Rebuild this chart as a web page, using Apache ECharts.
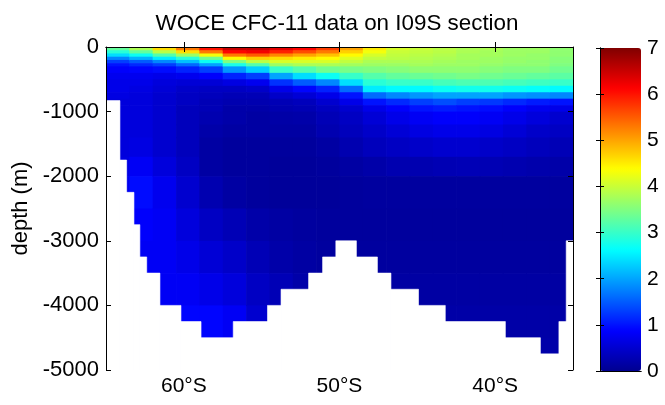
<!DOCTYPE html>
<html><head><meta charset="utf-8">
<script src="https://cdn.jsdelivr.net/npm/echarts@6/dist/echarts.min.js"></script>
<style>html,body{margin:0;padding:0;background:#fff}#c{width:665px;height:405px}</style>
</head><body><div id="c"></div>
<script>
// ---------- data ----------
const titleText = 'WOCE CFC-11 data on I09S section';
const yAxisName = 'depth (m)';
// latitude cell edges (negative = °S)
const latEdges = [-65, -63.5, -62, -60.5, -59, -57.5, -56, -54.5, -53, -51.5, -50,
                  -48.5, -47, -45.5, -44, -42.5, -41, -39.5, -38, -36.5, -35];
// depth cell edges (m)
const depthEdges = [0, 50, 100, 150, 200, 250, 300, 400, 500, 600, 700, 800, 900, 1000,
                    1200, 1400, 1700, 2000, 2500, 3000, 3500, 4000, 4500, 5000];
// CFC-11 values, one list per latitude column, top to bottom
const cfc = [
  [3.3,2.9,2.4,1.8,1.3,1.0,0.85,0.75,0.7,0.7,0.65,0.6,0.6,0.6,0.6,0.6,0.65,0.75,0.8,0.8,0.8,0.8,0.8],
  [3.8,3.3,2.7,2.1,1.5,1.15,0.9,0.75,0.7,0.65,0.6,0.6,0.6,0.6,0.6,0.65,0.8,0.95,0.85,0.8,0.8,0.8,0.8],
  [4.6,3.9,3.2,2.5,1.8,1.3,0.95,0.7,0.6,0.55,0.5,0.5,0.5,0.5,0.5,0.5,0.6,0.75,0.8,0.8,0.8,0.85,0.85],
  [5.3,4.6,3.7,2.9,2.2,1.6,1.1,0.75,0.55,0.45,0.4,0.4,0.35,0.35,0.35,0.35,0.4,0.5,0.6,0.7,0.8,0.9,0.9],
  [6.0,5.3,4.3,3.4,2.7,2.0,1.3,0.85,0.55,0.4,0.35,0.3,0.3,0.25,0.2,0.15,0.15,0.25,0.4,0.55,0.7,0.9,0.95],
  [6.5,6.1,5.3,4.4,3.5,2.8,1.9,1.1,0.65,0.4,0.3,0.25,0.2,0.2,0.15,0.1,0.1,0.15,0.3,0.45,0.6,0.8,0.9],
  [6.5,6.2,5.5,4.7,3.9,3.2,2.3,1.3,0.75,0.45,0.3,0.25,0.2,0.15,0.15,0.1,0.1,0.1,0.2,0.3,0.4,0.5,0.5],
  [6.3,5.9,5.2,4.6,4.1,3.7,3.0,2.0,1.2,0.7,0.45,0.3,0.25,0.18,0.15,0.1,0.08,0.08,0.15,0.2,0.3,0.35,0.35],
  [6.1,5.6,5.0,4.5,4.1,3.8,3.2,2.4,1.5,0.9,0.55,0.35,0.28,0.2,0.15,0.1,0.08,0.08,0.12,0.15,0.2,0.25,0.25],
  [5.7,5.3,4.8,4.4,4.1,3.8,3.4,2.7,1.8,1.1,0.7,0.5,0.38,0.3,0.25,0.15,0.1,0.08,0.1,0.12,0.15,0.2,0.2],
  [5.0,4.7,4.4,4.15,3.95,3.75,3.45,3.0,2.4,1.6,1.0,0.7,0.5,0.4,0.35,0.25,0.15,0.1,0.1,0.12,0.15,0.2,0.2],
  [4.5,4.3,4.1,3.95,3.8,3.7,3.5,3.2,2.9,2.5,1.6,1.0,0.7,0.55,0.45,0.35,0.2,0.12,0.1,0.12,0.15,0.2,0.2],
  [4.1,4.0,3.95,3.9,3.8,3.7,3.55,3.3,3.0,2.6,1.8,1.15,0.85,0.7,0.55,0.4,0.25,0.12,0.1,0.12,0.15,0.2,0.2],
  [4.0,3.95,3.9,3.85,3.8,3.75,3.6,3.35,3.0,2.6,1.9,1.3,1.0,0.8,0.65,0.45,0.25,0.12,0.1,0.12,0.15,0.2,0.2],
  [3.9,3.9,3.85,3.8,3.75,3.7,3.6,3.4,3.1,2.7,2.0,1.4,1.05,0.85,0.7,0.5,0.28,0.12,0.1,0.12,0.15,0.18,0.2],
  [3.8,3.8,3.75,3.75,3.7,3.7,3.6,3.45,3.15,2.75,2.0,1.3,1.0,0.85,0.7,0.5,0.3,0.12,0.1,0.12,0.15,0.18,0.2],
  [3.8,3.75,3.75,3.7,3.7,3.65,3.55,3.4,3.15,2.75,2.0,1.25,0.95,0.8,0.65,0.45,0.28,0.12,0.1,0.12,0.15,0.18,0.2],
  [3.7,3.7,3.7,3.65,3.65,3.6,3.5,3.35,3.1,2.7,1.9,1.15,0.85,0.7,0.55,0.4,0.25,0.12,0.1,0.12,0.15,0.18,0.2],
  [3.7,3.7,3.65,3.65,3.6,3.6,3.5,3.3,3.05,2.65,1.85,1.05,0.75,0.6,0.45,0.35,0.22,0.12,0.1,0.12,0.15,0.18,0.2],
  [3.6,3.6,3.6,3.55,3.55,3.5,3.4,3.25,3.0,2.6,1.8,1.0,0.7,0.5,0.4,0.3,0.2,0.12,0.1,0.12,0.15,0.18,0.2]
];
// sea-floor (mask) segments
const bathyLatEdges = [-65, -64.13, -63.70, -63.23, -62.85, -62.41, -61.56, -60.21, -58.92, -56.80,
                       -54.60, -53.73, -51.96, -51.06, -50.21, -48.94, -47.59, -46.72, -44.95, -43.23,
                       -39.37, -37.12, -35.88, -35.41, -35];
const bathyDepth = [830, 1750, 2250, 2750, 3250, 3500, 4000, 4250, 4500,
                    4250, 4000, 3750, 3500, 3250, 3000, 3250, 3500, 3750, 4000,
                    4250, 4500, 4750, 4250, 3000];
const xTickValues = [-60, -50, -40];
const colorMin = 0, colorMax = 7;
const jetColors = ['#000090','#0000FF','#0080FF','#00FFFF','#80FF80','#FFFF00','#FF8000','#FF0000','#800000'];

// ---------- build ----------
const FONT = '"Liberation Sans", Arial, Helvetica, sans-serif';
const fieldData = [];
for (let i = 0; i < cfc.length; i++) {
  for (let j = 0; j < depthEdges.length - 1; j++) {
    fieldData.push([latEdges[i], latEdges[i + 1], -depthEdges[j], -depthEdges[j + 1], cfc[i][j]]);
  }
}
const maskData = bathyDepth.map((d, i) => [bathyLatEdges[i], bathyLatEdges[i + 1], -d, -5000]);

function cellItem(params, api) {
  const p0 = api.coord([api.value(0), api.value(2)]);
  const p1 = api.coord([api.value(1), api.value(3)]);
  return { type: 'rect',
    shape: { x: p0[0], y: p0[1], width: p1[0] - p0[0] + 0.7, height: p1[1] - p0[1] + 0.7 },
    style: { fill: api.visual('color') } };
}
function maskItem(params, api) {
  const p0 = api.coord([api.value(0), api.value(2)]);
  const p1 = api.coord([api.value(1), api.value(3)]);
  return { type: 'rect',
    shape: { x: p0[0] - 0.4, y: p0[1], width: p1[0] - p0[0] + 0.8, height: p1[1] - p0[1] + 2 },
    style: { fill: '#ffffff', stroke: '#ffffff', lineWidth: 0.6 } };
}

const lineBlack = { show: true, lineStyle: { color: '#000', width: 1 } };
const chart = echarts.init(document.getElementById('c'), null, { renderer: 'canvas' });
chart.setOption({
  animation: false,
  backgroundColor: '#fff',
  textStyle: { fontFamily: FONT },
  title: { text: titleText, left: 332, textAlign: 'center', top: 8,
    textStyle: { fontSize: 22.4, fontWeight: 'normal', color: '#000', fontFamily: FONT } },
  grid: [
    { left: 106, top: 47, width: 467, height: 323 },
    { left: 600, top: 48, width: 41, height: 323 }
  ],
  xAxis: [
    { gridIndex: 0, type: 'value', min: -65, max: -35, position: 'bottom', z: 10,
      axisLine: lineBlack, splitLine: { show: false },
      axisTick: { show: true, inside: true, length: 5, customValues: xTickValues, lineStyle: { color: '#000' } },
      axisLabel: { customValues: xTickValues, formatter: v => Math.abs(v) + '°S', color: '#000',
        fontSize: 21, fontFamily: FONT, margin: 6 } },
    { gridIndex: 0, type: 'value', min: -65, max: -35, position: 'top', z: 10,
      axisLine: lineBlack, splitLine: { show: false },
      axisTick: { show: true, inside: true, length: 5, customValues: xTickValues, lineStyle: { color: '#000' } },
      axisLabel: { show: false } },
    { gridIndex: 1, type: 'value', min: 0, max: 1, position: 'bottom', z: 10,
      axisLine: lineBlack, splitLine: { show: false }, axisTick: { show: false }, axisLabel: { show: false } },
    { gridIndex: 1, type: 'value', min: 0, max: 1, position: 'top', z: 10,
      axisLine: lineBlack, splitLine: { show: false }, axisTick: { show: false }, axisLabel: { show: false } }
  ],
  yAxis: [
    { gridIndex: 0, type: 'value', min: -5000, max: 0, interval: 1000, position: 'left', z: 10,
      name: yAxisName, nameLocation: 'middle', nameGap: 68, nameRotate: 90,
      nameTextStyle: { fontSize: 22, color: '#000', fontFamily: FONT },
      axisLine: lineBlack, splitLine: { show: false },
      axisTick: { show: true, inside: true, length: 5, lineStyle: { color: '#000' } },
      axisLabel: { color: '#000', fontSize: 22, fontFamily: FONT, margin: 7, formatter: v => String(v) } },
    { gridIndex: 0, type: 'value', min: -5000, max: 0, interval: 1000, position: 'right', z: 10,
      axisLine: lineBlack, splitLine: { show: false },
      axisTick: { show: true, inside: true, length: 5, lineStyle: { color: '#000' } },
      axisLabel: { show: false } },
    { gridIndex: 1, type: 'value', min: colorMin, max: colorMax, interval: 1, position: 'right', z: 10,
      axisLine: lineBlack, splitLine: { show: false },
      axisTick: { show: true, inside: true, length: 4, lineStyle: { color: '#000' } },
      axisLabel: { color: '#000', fontSize: 21, fontFamily: FONT, margin: 6 } },
    { gridIndex: 1, type: 'value', min: colorMin, max: colorMax, interval: 1, position: 'left', z: 10,
      axisLine: lineBlack, splitLine: { show: false },
      axisTick: { show: true, inside: true, length: 4, lineStyle: { color: '#000' } },
      axisLabel: { show: false } }
  ],
  visualMap: {
    type: 'continuous', min: colorMin, max: colorMax, dimension: 4, seriesIndex: 0,
    inRange: { color: jetColors }, calculable: false, hoverLink: false,
    orient: 'vertical', left: 600, top: 48, itemWidth: 41, itemHeight: 323, padding: 0,
    showLabel: false, text: null
  },
  series: [
    { type: 'custom', xAxisIndex: 0, yAxisIndex: 0, renderItem: cellItem, data: fieldData,
      encode: { x: [0, 1], y: [2, 3] }, clip: true, z: 2, silent: true },
    { type: 'custom', xAxisIndex: 0, yAxisIndex: 0, renderItem: maskItem, data: maskData,
      encode: { x: [0, 1], y: [2, 3] }, clip: true, z: 3, silent: true }
  ]
});
</script>
</body></html>
